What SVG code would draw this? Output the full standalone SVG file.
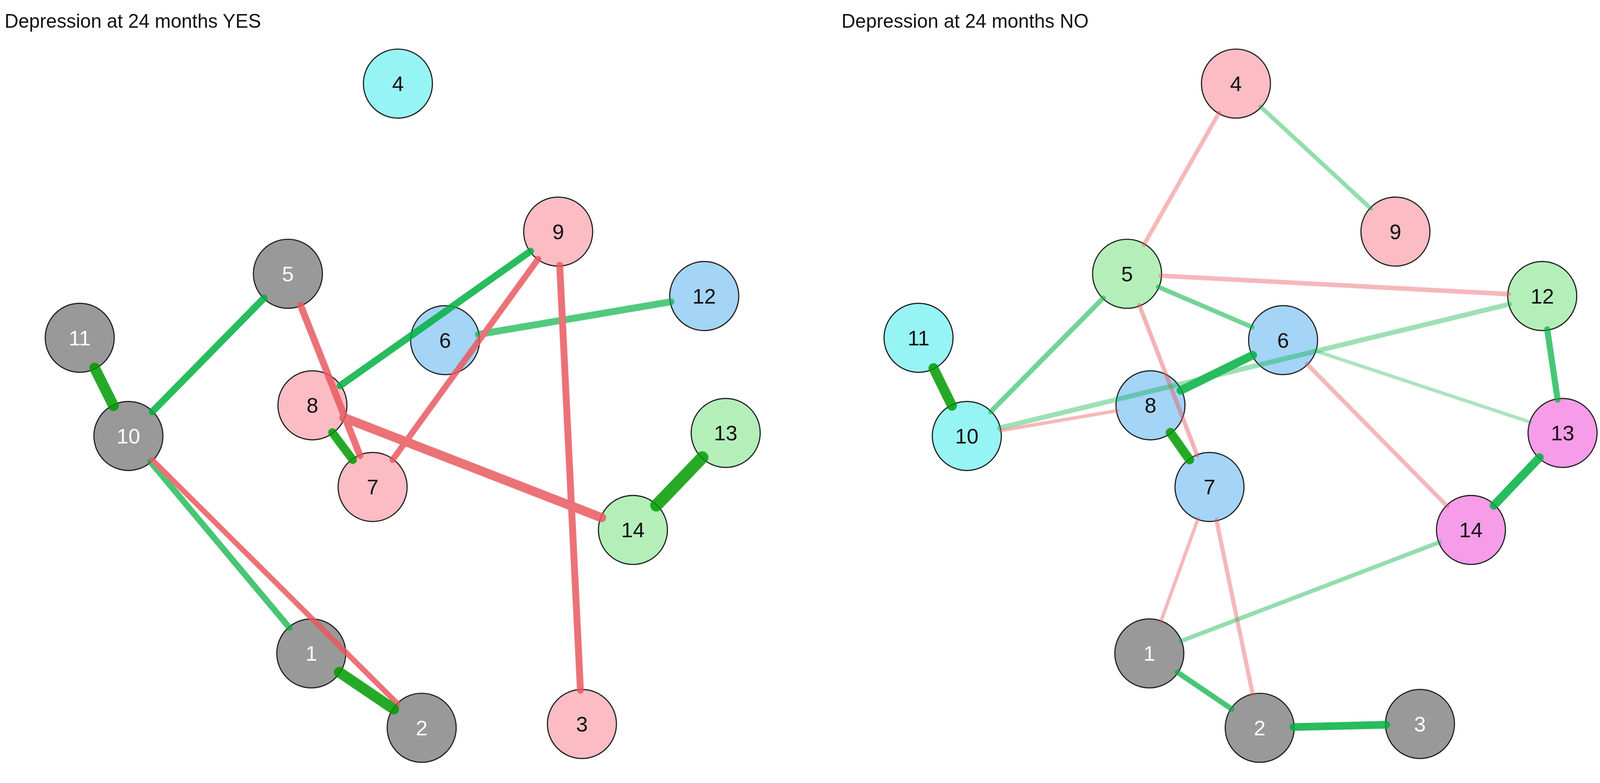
<svg xmlns="http://www.w3.org/2000/svg" width="4175" height="2004" viewBox="0 0 4175 2004">
<style>
.n{stroke:#222;stroke-width:3}
.g{fill:#999}.p{fill:#fbbcc4}.c{fill:#97f4f4}.b{fill:#a4d4f6}.l{fill:#b4efb9}.m{fill:#f69ce9}
text{font-family:"Liberation Sans",Arial,sans-serif}
.t{font-size:55px;text-anchor:middle;dominant-baseline:central;fill:#111}
.w{fill:#fff}
.h{font-size:50px;fill:#111}
line{stroke-linecap:round}
.G{stroke:#00b040}.D{stroke:#009a00}.R{stroke:#e8595f}
</style>
<g transform="scale(0.9814)">
<text class="h" x="12" y="72">Depression at 24 months YES</text>
<text class="h" x="2195" y="72">Depression at 24 months NO</text>
<g id="nodes">
<g id="L4"><circle class="n c" cx="1038" cy="218" r="90"/><text class="t" x="1038" y="218">4</text></g>
<g id="L9"><circle class="n p" cx="1456" cy="604" r="90"/><text class="t" x="1456" y="604">9</text></g>
<g id="L5"><circle class="n g" cx="751" cy="714" r="90"/><text class="t w" x="751" y="714">5</text></g>
<g id="L12"><circle class="n b" cx="1837" cy="772" r="90"/><text class="t" x="1837" y="772">12</text></g>
<g id="L11"><circle class="n g" cx="208" cy="881" r="90"/><text class="t w" x="208" y="881">11</text></g>
<g id="L6"><circle class="n b" cx="1161" cy="887" r="90"/><text class="t" x="1161" y="887">6</text></g>
<g id="L8"><circle class="n p" cx="815" cy="1057" r="90"/><text class="t" x="815" y="1057">8</text></g>
<g id="L10"><circle class="n g" cx="335" cy="1137" r="90"/><text class="t w" x="335" y="1137">10</text></g>
<g id="L13"><circle class="n l" cx="1893" cy="1129" r="90"/><text class="t" x="1893" y="1129">13</text></g>
<g id="L7"><circle class="n p" cx="972" cy="1270" r="90"/><text class="t" x="972" y="1270">7</text></g>
<g id="L14"><circle class="n l" cx="1651" cy="1382" r="90"/><text class="t" x="1651" y="1382">14</text></g>
<g id="L1"><circle class="n g" cx="812" cy="1704" r="90"/><text class="t w" x="812" y="1704">1</text></g>
<g id="L2"><circle class="n g" cx="1100" cy="1898" r="90"/><text class="t w" x="1100" y="1898">2</text></g>
<g id="L3"><circle class="n p" cx="1518" cy="1888" r="90"/><text class="t" x="1518" y="1888">3</text></g>
<g id="R4"><circle class="n p" cx="3224" cy="218" r="90"/><text class="t" x="3224" y="218">4</text></g>
<g id="R9"><circle class="n p" cx="3640" cy="604" r="90"/><text class="t" x="3640" y="604">9</text></g>
<g id="R5"><circle class="n l" cx="2940" cy="714" r="90"/><text class="t" x="2940" y="714">5</text></g>
<g id="R12"><circle class="n l" cx="4023" cy="772" r="90"/><text class="t" x="4023" y="772">12</text></g>
<g id="R11"><circle class="n c" cx="2396" cy="881" r="90"/><text class="t" x="2396" y="881">11</text></g>
<g id="R6"><circle class="n b" cx="3347" cy="887" r="90"/><text class="t" x="3347" y="887">6</text></g>
<g id="R8"><circle class="n b" cx="3001" cy="1057" r="90"/><text class="t" x="3001" y="1057">8</text></g>
<g id="R10"><circle class="n c" cx="2522" cy="1137" r="90"/><text class="t" x="2522" y="1137">10</text></g>
<g id="R13"><circle class="n m" cx="4076" cy="1129" r="90"/><text class="t" x="4076" y="1129">13</text></g>
<g id="R7"><circle class="n b" cx="3155" cy="1270" r="90"/><text class="t" x="3155" y="1270">7</text></g>
<g id="R14"><circle class="n m" cx="3837" cy="1382" r="90"/><text class="t" x="3837" y="1382">14</text></g>
<g id="R1"><circle class="n g" cx="2998" cy="1704" r="90"/><text class="t w" x="2998" y="1704">1</text></g>
<g id="R2"><circle class="n g" cx="3286" cy="1898" r="90"/><text class="t w" x="3286" y="1898">2</text></g>
<g id="R3"><circle class="n g" cx="3704" cy="1888" r="90"/><text class="t w" x="3704" y="1888">3</text></g>
</g>
<g id="connectors" opacity="0.85">
<line class="G" x1="689" y1="777" x2="397" y2="1074" stroke-width="18"/>
<line class="D" x1="247" y1="960" x2="296" y2="1058" stroke-width="28"/>
<line class="G" x1="1384" y1="655" x2="887" y2="1006" stroke-width="18"/>
<line class="G" x1="1248" y1="872" x2="1750" y2="787" stroke-width="18" opacity="0.8"/>
<line class="R" x1="784" y1="796" x2="939" y2="1188" stroke-width="18"/>
<line class="R" x1="1404" y1="675" x2="1024" y2="1199" stroke-width="16"/>
<line class="R" x1="1460" y1="692" x2="1514" y2="1800" stroke-width="18"/>
<line class="D" x1="867" y1="1128" x2="920" y2="1199" stroke-width="22"/>
<line class="R" x1="897" y1="1089" x2="1569" y2="1350" stroke-width="24"/>
<line class="D" x1="1832" y1="1193" x2="1712" y2="1318" stroke-width="32"/>
<line class="G" x1="392" y1="1204" x2="755" y2="1637" stroke-width="16" opacity="0.85"/>
<line class="R" x1="397" y1="1199" x2="1038" y2="1836" stroke-width="14"/>
<line class="D" x1="885" y1="1753" x2="1027" y2="1849" stroke-width="28"/>
<line class="R" x1="3180" y1="294" x2="2984" y2="638" stroke-width="11" opacity="0.5"/>
<line class="G" x1="3288" y1="278" x2="3576" y2="544" stroke-width="11" opacity="0.5"/>
<line class="R" x1="3028" y1="719" x2="3935" y2="767" stroke-width="12" opacity="0.5"/>
<line class="G" x1="3021" y1="748" x2="3266" y2="853" stroke-width="12" opacity="0.65"/>
<line class="G" x1="2878" y1="777" x2="2584" y2="1074" stroke-width="13" opacity="0.65"/>
<line class="D" x1="2435" y1="960" x2="2483" y2="1058" stroke-width="26"/>
<line class="R" x1="2972" y1="796" x2="3123" y2="1188" stroke-width="11" opacity="0.55"/>
<line class="G" x1="3938" y1="793" x2="2607" y2="1116" stroke-width="13" opacity="0.45"/>
<line class="G" x1="4036" y1="859" x2="4063" y2="1042" stroke-width="16" opacity="0.85"/>
<line class="G" x1="3268" y1="926" x2="3080" y2="1018" stroke-width="22"/>
<line class="G" x1="3431" y1="915" x2="3992" y2="1101" stroke-width="9" opacity="0.4"/>
<line class="R" x1="3409" y1="949" x2="3775" y2="1320" stroke-width="11" opacity="0.5"/>
<line class="R" x1="2914" y1="1071" x2="2609" y2="1123" stroke-width="9" opacity="0.5"/>
<line class="D" x1="3053" y1="1128" x2="3103" y2="1199" stroke-width="24"/>
<line class="G" x1="4016" y1="1193" x2="3897" y2="1318" stroke-width="22"/>
<line class="R" x1="3125" y1="1353" x2="3028" y2="1621" stroke-width="9" opacity="0.5"/>
<line class="R" x1="3173" y1="1356" x2="3268" y2="1812" stroke-width="11" opacity="0.5"/>
<line class="G" x1="3755" y1="1414" x2="3080" y2="1672" stroke-width="11" opacity="0.5"/>
<line class="G" x1="3071" y1="1753" x2="3213" y2="1849" stroke-width="14" opacity="0.85"/>
<line class="G" x1="3374" y1="1896" x2="3616" y2="1890" stroke-width="20"/>
</g>
</g>
</svg>
